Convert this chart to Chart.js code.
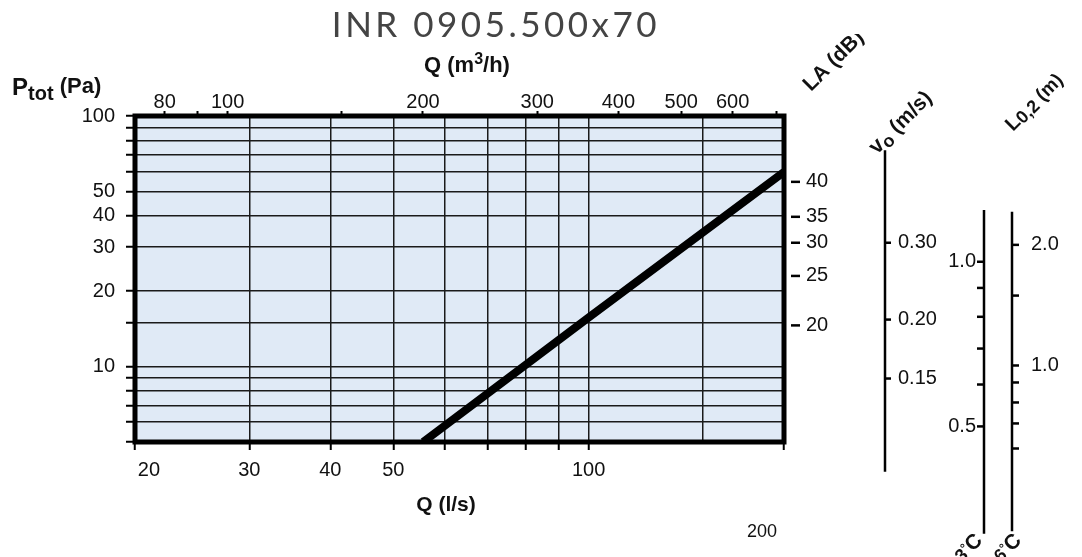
<!DOCTYPE html>
<html>
<head>
<meta charset="utf-8">
<script src="https://cdn.jsdelivr.net/npm/chart.js@4.4.1/dist/chart.umd.min.js"></script>
<style>
  html, body { margin: 0; padding: 0; background: #fff; }
  #chart { display: block; }
</style>
</head>
<body>
<canvas id="chart" width="1082" height="557"></canvas>
<script>
// pressure drop curve: Q in l/s, Ptot in Pa
const flowLs = [55.6, 100, 200];
const pressurePa = [5, 15.7, 59.8];

// grid and tick values
const qGridLs = [20, 30, 40, 50, 60, 70, 80, 90, 100, 150, 200];
const qLabelsLs = [20, 30, 40, 50, 100];
const qTicksM3h = [80, 90, 100, 150, 200, 300, 400, 500, 600, 700];
const qLabelsM3h = [80, 100, 200, 300, 400, 500, 600];
const pGrid = [5, 6, 7, 8, 9, 10, 15, 20, 30, 40, 50, 60, 70, 80, 90, 100];
const pLabels = [10, 20, 30, 40, 50, 100];

// side scales, each given as the Ptot value it lines up with
const laLabels = ['40', '35', '30', '25', '20'];
const laAtPa = [54.6, 39.6, 31.2, 23.0, 14.6];
const v0Labels = ['0.30', '0.20', '0.15'];
const v0AtPa = [31.2, 15.4, 8.96];
const l3Labels = ['1.0', '', '', '', '', '0.5'];
const l3AtPa = [26.2, 20.6, 15.8, 11.8, 8.48, 5.77];
const l6Labels = ['2.0', '', '1.0', '', '', '', ''];
const l6AtPa = [30.6, 19.2, 10.1, 8.64, 7.19, 5.93, 4.71];

const SANS = '"Liberation Sans", Arial, sans-serif';
const TICK_FONT = { family: SANS, size: 20 };

function drawRuns(ctx, x, y, parts, angle) {
    ctx.save();
    ctx.translate(x, y);
    ctx.rotate(angle || 0);
    ctx.textAlign = 'left';
    ctx.textBaseline = 'alphabetic';
    let cx = 0;
    for (const [text, font, dy] of parts) {
        ctx.font = font;
        ctx.fillText(text, cx, dy);
        cx += ctx.measureText(text).width;
    }
    ctx.restore();
}

function centerRuns(ctx, cx, y, parts) {
    let w = 0;
    for (const [text, font] of parts) {
        ctx.font = font;
        w += ctx.measureText(text).width;
    }
    drawRuns(ctx, cx - w / 2, y, parts, 0);
}

const decor = {
    id: 'decor',
    beforeDraw(chart) {
        const { ctx, chartArea: a } = chart;
        ctx.save();
        ctx.fillStyle = '#e0eaf6';
        ctx.fillRect(a.left, a.top, a.right - a.left, a.bottom - a.top);
        ctx.restore();
    },
    afterDatasetsDraw(chart) {
        const { ctx, chartArea: a } = chart;
        ctx.save();
        ctx.strokeStyle = '#000';
        ctx.lineWidth = 5;
        ctx.strokeRect(a.left, a.top, a.right - a.left, a.bottom - a.top);
        ctx.restore();
    },
    afterDraw(chart) {
        const ctx = chart.ctx;
        const y = chart.scales.y;
        const py = (v) => y.getPixelForValue(v);
        const B = (s) => 'bold ' + s + 'px ' + SANS;
        const R = (s) => s + 'px ' + SANS;
        ctx.save();
        ctx.fillStyle = '#111';
        ctx.strokeStyle = '#000';

        // title
        ctx.save();
        ctx.font = '35px Lato, "Open Sans", sans-serif';
        ctx.letterSpacing = '3.5px';
        ctx.fillStyle = '#444';
        ctx.textAlign = 'center';
        ctx.textBaseline = 'alphabetic';
        ctx.fillText('INR 0905.500x70', 496, 37);
        ctx.restore();

        // axis titles
        centerRuns(ctx, 467, 72, [['Q (m', B(22), 0], ['3', B(16), -8], ['/h)', B(22), 0]]);
        centerRuns(ctx, 446, 511, [['Q (l/s)', B(21), 0]]);
        drawRuns(ctx, 12, 95, [['P', B(24), 0], ['tot', B(20), 5], [' (Pa)', B(22), -2]]);

        ctx.font = R(18);
        ctx.textAlign = 'center';
        ctx.fillText('200', 762, 537);

        // LA (dB) ticks next to the plot
        ctx.lineWidth = 2.5;
        ctx.font = R(20);
        ctx.textAlign = 'left';
        ctx.textBaseline = 'middle';
        laAtPa.forEach((p, i) => {
            const yy = py(p);
            ctx.beginPath();
            ctx.moveTo(791, yy);
            ctx.lineTo(800, yy);
            ctx.stroke();
            ctx.fillText(laLabels[i], 806, yy);
        });

        // v0 (m/s) scale
        ctx.lineWidth = 2.5;
        ctx.beginPath();
        ctx.moveTo(885, py(73));
        ctx.lineTo(885, py(3.8));
        ctx.stroke();
        v0AtPa.forEach((p, i) => {
            const yy = py(p);
            ctx.beginPath();
            ctx.moveTo(885, yy);
            ctx.lineTo(891, yy);
            ctx.stroke();
            ctx.fillText(v0Labels[i], 898, yy);
        });

        // L0,2 (m) scales for 3 and 6 degrees
        ctx.beginPath();
        ctx.moveTo(984, py(42.2));
        ctx.lineTo(984, py(2.15));
        ctx.moveTo(1012, py(41.5));
        ctx.lineTo(1012, py(2.2));
        ctx.stroke();
        ctx.textAlign = 'right';
        l3AtPa.forEach((p, i) => {
            const yy = py(p);
            ctx.beginPath();
            ctx.moveTo(977, yy);
            ctx.lineTo(984, yy);
            ctx.stroke();
            if (l3Labels[i]) ctx.fillText(l3Labels[i], 976, yy);
        });
        ctx.textAlign = 'left';
        l6AtPa.forEach((p, i) => {
            const yy = py(p);
            ctx.beginPath();
            ctx.moveTo(1012, yy);
            ctx.lineTo(1019, yy);
            ctx.stroke();
            if (l6Labels[i]) ctx.fillText(l6Labels[i], 1031, yy);
        });

        // rotated headings (the LA heading is cut off in the original)
        const up = -Math.PI / 4;
        ctx.save();
        ctx.beginPath();
        ctx.rect(780, 34, 120, 80);
        ctx.clip();
        drawRuns(ctx, 811, 92, [['LA (dB)', B(21), 0]], up);
        ctx.restore();
        drawRuns(ctx, 877, 155, [['v', B(22), 0], ['o', B(18), 4], [' (m/s)', B(21), 0]], up);
        drawRuns(ctx, 1013, 132, [['L', B(20), 0], ['0,2', B(18), 2], [' (m)', B(19), 0]], up);
        drawRuns(ctx, 962, 563, [['3', B(18), 0], ['°', B(13), -5], ['C', B(21), 0]], up);
        drawRuns(ctx, 1001, 563, [['6', B(18), 0], ['°', B(13), -5], ['C', B(21), 0]], up);

        ctx.restore();
    }
};

const gridColor = '#1a1a1a';

new Chart(document.getElementById('chart'), {
    type: 'line',
    data: {
        datasets: [{
            data: flowLs.map((q, i) => ({ x: q, y: pressurePa[i] })),
            borderColor: '#000',
            borderWidth: 8,
            borderCapStyle: 'butt',
            pointRadius: 0,
            fill: false,
            tension: 0,
            xAxisID: 'x',
            yAxisID: 'y'
        }]
    },
    options: {
        responsive: false,
        animation: false,
        layout: { padding: { left: 0, right: 298, top: 0, bottom: 0 } },
        plugins: {
            legend: { display: false },
            tooltip: { enabled: false },
            title: { display: false }
        },
        scales: {
            x: {
                type: 'logarithmic',
                position: 'bottom',
                min: 20,
                max: 200,
                afterBuildTicks: (s) => { s.ticks = qGridLs.map(v => ({ value: v })); },
                afterFit: (s) => { s.height = 115; },
                border: { display: false },
                grid: {
                    color: gridColor,
                    lineWidth: 1.5,
                    tickLength: 8,
                    tickWidth: 2,
                    tickColor: (c) => (c.tick && c.tick.value === 150 ? 'rgba(0,0,0,0)' : '#000')
                },
                ticks: {
                    autoSkip: false,
                    maxRotation: 0,
                    padding: 8,
                    color: '#111',
                    font: TICK_FONT,
                    // the first label sits a little right of its tick in the original
                    callback: (v) => (qLabelsLs.includes(v) ? (v === 20 ? '     20' : String(v)) : '')
                }
            },
            x2: {
                type: 'logarithmic',
                position: 'top',
                min: 72,
                max: 720,
                afterBuildTicks: (s) => { s.ticks = qTicksM3h.map(v => ({ value: v })); },
                afterFit: (s) => { s.height = 116; },
                border: { display: false },
                grid: {
                    drawOnChartArea: false,
                    tickLength: 5,
                    tickWidth: 2,
                    tickColor: '#000'
                },
                ticks: {
                    autoSkip: false,
                    maxRotation: 0,
                    padding: -3,
                    color: '#111',
                    font: TICK_FONT,
                    callback: (v) => (qLabelsM3h.includes(v) ? String(v) : '')
                }
            },
            y: {
                type: 'logarithmic',
                position: 'left',
                min: 5,
                max: 100,
                afterBuildTicks: (s) => { s.ticks = pGrid.map(v => ({ value: v })); },
                afterFit: (s) => { s.width = 135; },
                border: { display: false },
                grid: {
                    color: gridColor,
                    lineWidth: 1.5,
                    tickLength: 9,
                    tickWidth: 2,
                    tickColor: '#000'
                },
                ticks: {
                    autoSkip: false,
                    padding: 11,
                    color: '#111',
                    font: TICK_FONT,
                    callback: (v) => (pLabels.includes(v) ? String(v) : '')
                }
            }
        }
    },
    plugins: [decor]
});
</script>
</body>
</html>
